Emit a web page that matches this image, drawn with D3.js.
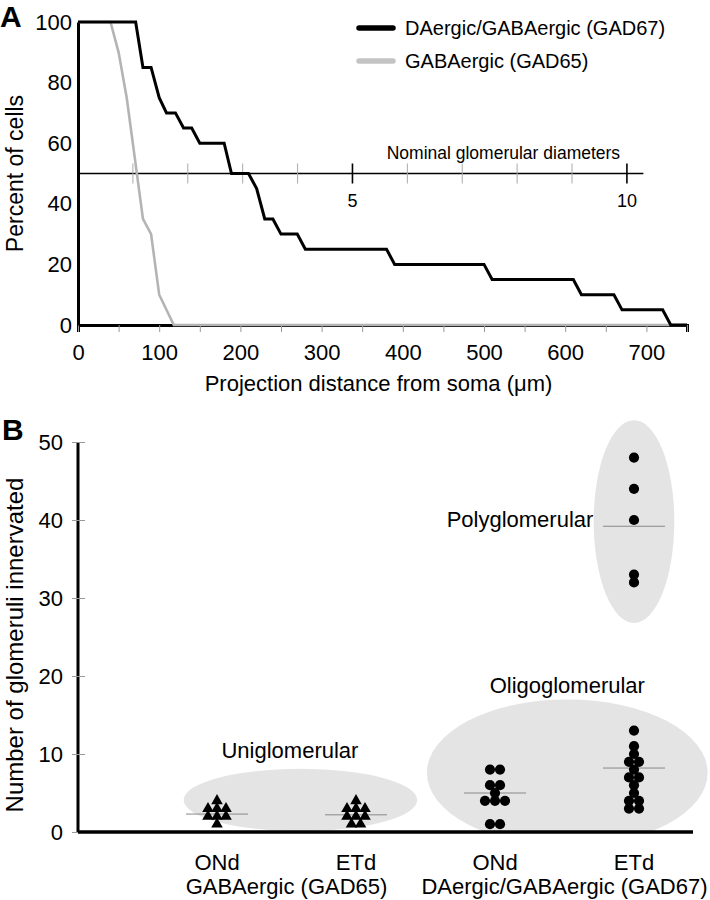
<!DOCTYPE html>
<html>
<head>
<meta charset="utf-8">
<script src="https://cdn.jsdelivr.net/npm/d3@7"></script>
<style>
  body { margin: 0; background: #fff; }
  svg { display: block; font-family: "Liberation Sans", Arial, sans-serif; }
</style>
</head>
<body>
<svg id="fig" width="710" height="900"></svg>
<script>
// ---- panel A data: % of cells projecting at least this far ----
const distGAD67 = [0, 71, 80, 90, 100, 109, 120, 130, 140, 150, 180, 189, 210, 220, 230, 240, 250, 270, 280, 380, 390, 500, 510, 610, 620, 660, 670, 720, 730, 750];
const pctGAD67  = [100, 100, 85, 85, 75, 70, 70, 65, 65, 60, 60, 50, 50, 45, 35, 35, 30, 30, 25, 25, 20, 20, 15, 15, 10, 10, 5, 5, 0, 0];
const distGAD65 = [0, 40, 50, 60, 80, 90, 100, 118, 750];
const pctGAD65  = [100, 100, 90, 75, 35, 30, 10, 0, 0];
const distTicks = d3.range(0, 751, 50);
const pctTicks = [0, 20, 40, 60, 80, 100];
const glomDiameter = 67.6;          // um per nominal glomerular diameter
const glomTicks = d3.range(1, 11);
const glomLabeled = [5, 10];
const legendNames = ["DAergic/GABAergic (GAD67)", "GABAergic (GAD65)"];

// ---- panel B data: glomeruli innervated per cell ----
const cellTypes = ["ONd", "ETd", "ONd ", "ETd "];
const groupNames = ["GABAergic (GAD65)", "DAergic/GABAergic (GAD67)"];
const ondGAD65 = [4, 3, 3, 3, 2, 2, 2, 1];
const etdGAD65 = [4, 3, 3, 3, 2, 2, 2, 1, 1];
const ondGAD67 = [8, 8, 6, 6, 5, 4, 4, 4, 1, 1];
const etdGAD67oligo = [13, 11, 10, 9, 9, 8, 7, 7, 6, 5, 4, 4, 3, 3];
const etdGAD67poly = [48, 44, 40, 33, 32];
const groupMeans = [2.3, 2.2, 5.0, 8.2, 39.2];
const countTicks = [0, 10, 20, 30, 40, 50];

const svg = d3.select("#fig");

// ================= Panel A =================
const x = d3.scaleLinear().domain([0, 750]).range([78, 687]);
const y = d3.scaleLinear().domain([0, 100]).range([325, 22]);

svg.append("text").attr("x", 0).attr("y", 27)
    .attr("font-size", 30).attr("font-weight", "bold").text("A");

const ax = svg.append("g").attr("transform", "translate(0,325)")
    .call(d3.axisBottom(x).tickValues(distTicks).tickSize(7).tickPadding(12)
      .tickFormat(d => d % 100 === 0 ? d : ""));
ax.select(".domain").attr("stroke", "#000").attr("stroke-width", 3);
ax.selectAll(".tick line").attr("stroke", "#999");
ax.selectAll("text").attr("font-size", 22).attr("fill", "#000");

const ay = svg.append("g").attr("transform", "translate(78,0)")
    .call(d3.axisLeft(y).tickValues(pctTicks).tickSize(0).tickPadding(6));
ay.select(".domain").attr("stroke", "#000").attr("stroke-width", 3);
ay.selectAll("text").attr("font-size", 22).attr("fill", "#000");

svg.append("text")
    .attr("transform", `translate(23,${(y(0) + y(100)) / 2}) rotate(-90)`)
    .attr("text-anchor", "middle").attr("font-size", 23).text("Percent of cells");
svg.append("text").attr("x", (x(0) + x(750)) / 2 - 4).attr("y", 391)
    .attr("text-anchor", "middle").attr("font-size", 22)
    .text("Projection distance from soma (\u03bcm)");

// nominal glomerular diameter axis at 50 %
const g = d3.scaleLinear().domain([0, 10]).range([x(0), x(10 * glomDiameter)]);
const glom = svg.append("g");
glom.append("line").attr("x1", g(0)).attr("x2", g(10.3))
    .attr("y1", y(50)).attr("y2", y(50)).attr("stroke", "#000").attr("stroke-width", 1.3);
glom.selectAll("line.tk").data(glomTicks).enter().append("line")
    .attr("class", "tk")
    .attr("x1", d => g(d)).attr("x2", d => g(d))
    .attr("y1", y(50) - 10).attr("y2", y(50) + 10)
    .attr("stroke", d => glomLabeled.includes(d) ? "#000" : "#aaa")
    .attr("stroke-width", d => glomLabeled.includes(d) ? 1.6 : 1);
glom.selectAll("text.lb").data(glomLabeled).enter().append("text")
    .attr("class", "lb")
    .attr("x", d => g(d)).attr("y", y(50) + 33)
    .attr("text-anchor", "middle").attr("font-size", 18).text(d => d);
glom.append("text").attr("x", g(7.75)).attr("y", y(50) - 15)
    .attr("text-anchor", "middle").attr("font-size", 17.5)
    .text("Nominal glomerular diameters");

// lines
const line = d3.line().x(d => x(d[0])).y(d => y(d[1]));
svg.append("path").datum(d3.zip(distGAD65, pctGAD65))
    .attr("d", line).attr("fill", "none").attr("stroke", "#b4b4b4").attr("stroke-width", 2.6);
svg.append("path").datum(d3.zip(distGAD67, pctGAD67))
    .attr("d", line).attr("fill", "none").attr("stroke", "#000").attr("stroke-width", 3);

// legend
const legColors = ["#000", "#c4c4c4"];
const leg = svg.append("g").selectAll("g").data(legendNames).enter().append("g")
    .attr("transform", (d, i) => `translate(357,${28 + i * 33})`);
leg.append("line").attr("x1", 2).attr("x2", 36)
    .attr("stroke", (d, i) => legColors[i]).attr("stroke-width", 5.5).attr("stroke-linecap", "round");
leg.append("text").attr("x", 48).attr("y", 7).attr("font-size", 20).text(d => d);

// ================= Panel B =================
const xb = d3.scalePoint().domain(cellTypes).range([217, 634]);
const xi = d3.scaleLinear().domain([0, 3]).range([xb(cellTypes[0]), xb(cellTypes[3])]);
const yb = d3.scaleLinear().domain([0, 50]).range([832, 442]);

svg.append("text").attr("x", 2).attr("y", 440)
    .attr("font-size", 30).attr("font-weight", "bold").text("B");

svg.append("defs").append("clipPath").attr("id", "above")
  .append("rect").attr("x", 0).attr("y", 0).attr("width", 710).attr("height", yb(0));

// shaded classes: centre/radius in category-index and count units, plus label anchor
const classes = [
  { name: "Uniglomerular",   cx: 0.6,  cy: 4.1,  rx: 0.84, ry: 4.0,  lx: 0.525, ly: 9.5 },
  { name: "Oligoglomerular", cx: 2.52, cy: 7.6,  rx: 1.01, ry: 9.4,  lx: 2.52,  ly: 17.8 },
  { name: "Polyglomerular",  cx: 3.0,  cy: 39.8, rx: 0.29, ry: 13.0, lx: 2.18,  ly: 39.1 }
];
const shade = svg.append("g").attr("clip-path", "url(#above)");
shade.selectAll("ellipse").data(classes).enter().append("ellipse")
    .attr("cx", d => xi(d.cx)).attr("cy", d => yb(d.cy))
    .attr("rx", d => xi(d.rx) - xi(0)).attr("ry", d => yb(0) - yb(d.ry))
    .attr("fill", "#e4e4e4");
svg.selectAll("text.cls").data(classes).enter().append("text")
    .attr("class", "cls")
    .attr("x", d => xi(d.lx)).attr("y", d => yb(d.ly))
    .attr("text-anchor", "middle").attr("font-size", 22).text(d => d.name);

// axes
const byAxis = svg.append("g").attr("transform", "translate(78,0)")
    .call(d3.axisLeft(yb).tickValues(countTicks).tickSize(7).tickPadding(8));
byAxis.selectAll(".tick line").attr("stroke", "#999").attr("x2", 7).attr("x1", -6);
byAxis.select(".domain").attr("stroke", "#000").attr("stroke-width", 3).attr("d", `M0,${yb(0)}V${yb(50)}`);
byAxis.selectAll("text").attr("font-size", 22).attr("fill", "#000");

svg.append("line").attr("x1", 78).attr("x2", 693).attr("y1", yb(0)).attr("y2", yb(0))
    .attr("stroke", "#000").attr("stroke-width", 3.5);

svg.append("text")
    .attr("transform", `translate(23,645) rotate(-90)`)
    .attr("text-anchor", "middle").attr("font-size", 24).text("Number of glomeruli innervated");

svg.selectAll("text.cat").data(cellTypes).enter().append("text")
    .attr("class", "cat").attr("x", d => xb(d)).attr("y", 870)
    .attr("text-anchor", "middle").attr("font-size", 22).text(d => d.trim());
svg.selectAll("text.grp").data(groupNames).enter().append("text")
    .attr("class", "grp").attr("x", (d, i) => (xi(2 * i) + xi(2 * i + 1)) / 2).attr("y", 894)
    .attr("text-anchor", "middle").attr("font-size", 22).text(d => d);

// points, placed side by side when values coincide
function spread(values, cat, step) {
  const counts = d3.rollup(values, v => v.length, v => v);
  const seen = new Map();
  return values.map(v => {
    const n = counts.get(v), i = seen.get(v) || 0;
    seen.set(v, i + 1);
    return { v, x: xb(cat) + (i - (n - 1) / 2) * step };
  });
}
const triPts = [...spread(ondGAD65, cellTypes[0], 9), ...spread(etdGAD65, cellTypes[1], 9)];
const dotPts = [...spread(ondGAD67, cellTypes[2], 10), ...spread(etdGAD67oligo, cellTypes[3], 10),
                ...spread(etdGAD67poly, cellTypes[3], 10)];

// mean lines
const meanCats = [cellTypes[0], cellTypes[1], cellTypes[2], cellTypes[3], cellTypes[3]];
svg.selectAll("line.mean").data(groupMeans).enter().append("line")
    .attr("class", "mean")
    .attr("x1", (d, i) => xb(meanCats[i]) - 31).attr("x2", (d, i) => xb(meanCats[i]) + 31)
    .attr("y1", d => yb(d)).attr("y2", d => yb(d))
    .attr("stroke", "#888").attr("stroke-width", 1);

svg.selectAll("path.tri").data(triPts).enter().append("path")
    .attr("class", "tri")
    .attr("transform", d => `translate(${d.x},${yb(d.v)})`)
    .attr("d", d3.symbol(d3.symbolTriangle, 58)).attr("fill", "#000");
svg.selectAll("circle.dot").data(dotPts).enter().append("circle")
    .attr("class", "dot")
    .attr("cx", d => d.x).attr("cy", d => yb(d.v)).attr("r", 5.1).attr("fill", "#000");
</script>
</body>
</html>
